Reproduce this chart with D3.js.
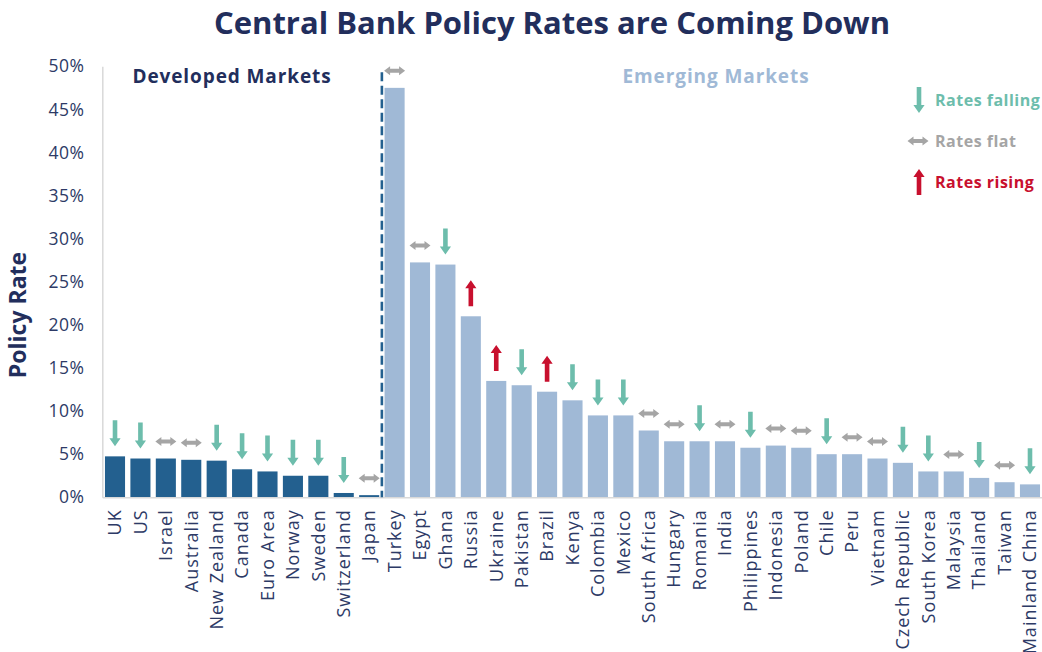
<!DOCTYPE html>
<html>
<head>
<meta charset="utf-8">
<script src="https://cdn.jsdelivr.net/npm/d3@7"></script>
<style>
  body { margin: 0; background: #fff; }
  svg { display: block; font-family: "Open Sans", "DejaVu Sans", sans-serif; }
</style>
</head>
<body>
<svg id="viz" width="1042" height="652"></svg>
<script>
// policy rates, %
var developed = ["UK", "US", "Israel", "Australia", "New Zealand", "Canada",
    "Euro Area", "Norway", "Sweden", "Switzerland", "Japan"];
var developedRates = [4.75, 4.5, 4.5, 4.35, 4.25, 3.25, 3.0, 2.5, 2.5, 0.5, 0.25];
var developedTrend = ["down", "down", "flat", "flat", "down", "down",
    "down", "down", "down", "down", "flat"];

var emerging = ["Turkey", "Egypt", "Ghana", "Russia", "Ukraine", "Pakistan",
    "Brazil", "Kenya", "Colombia", "Mexico", "South Africa", "Hungary",
    "Romania", "India", "Philippines", "Indonesia", "Poland", "Chile", "Peru",
    "Vietnam", "Czech Republic", "South Korea", "Malaysia", "Thailand",
    "Taiwan", "Mainland China"];
var emergingRates = [47.5, 27.25, 27, 21, 13.5, 13, 12.25, 11.25, 9.5, 9.5,
    7.75, 6.5, 6.5, 6.5, 5.75, 6.0, 5.75, 5.0, 5.0, 4.5, 4.0, 3.0, 3.0,
    2.25, 1.75, 1.5];
var emergingTrend = ["flat", "flat", "down", "up", "up", "down", "up", "down",
    "down", "down", "flat", "flat", "down", "flat", "down", "flat", "flat",
    "down", "flat", "flat", "down", "down", "flat", "down", "flat", "down"];

var yTicks = [0, 5, 10, 15, 20, 25, 30, 35, 40, 45, 50];
var legendKeys = ["down", "flat", "up"];
var legendLabels = ["Rates falling", "Rates flat", "Rates rising"];

var colors = { DM: "#23608f", EM: "#a0b9d6", down: "#6dbdac", flat: "#a5a5a5",
    up: "#c8102e", navy: "#222e5c", tick: "#2d3a66" };

var data = developed.map(function (c, i) {
    return { country: c, rate: developedRates[i], trend: developedTrend[i], market: "DM" };
}).concat(emerging.map(function (c, i) {
    return { country: c, rate: emergingRates[i], trend: emergingTrend[i], market: "EM" };
}));

var svg = d3.select("#viz");

var x = d3.scaleBand()
    .domain(data.map(function (d) { return d.country; }))
    .range([102.3, 1042.7])
    .paddingInner(0.21)
    .paddingOuter(0.105);
var y = d3.scaleLinear().domain([0, 50]).range([497.3, 66.3]);

// arrow glyphs, drawn around an anchor point
function arrowPath(kind, cx, cy) {
    if (kind === "flat") {
        return "M" + (cx - 10.5) + "," + cy +
            "L" + (cx - 4.5) + "," + (cy - 4.5) + "L" + (cx - 4.5) + "," + (cy - 2) +
            "L" + (cx + 4.5) + "," + (cy - 2) + "L" + (cx + 4.5) + "," + (cy - 4.5) +
            "L" + (cx + 10.5) + "," + cy +
            "L" + (cx + 4.5) + "," + (cy + 4.5) + "L" + (cx + 4.5) + "," + (cy + 2) +
            "L" + (cx - 4.5) + "," + (cy + 2) + "L" + (cx - 4.5) + "," + (cy + 4.5) + "Z";
    }
    // cy is the arrow's bottom end; total length 26
    var top = cy - 26, s = 2.3, h = 5.6, hl = 8;
    if (kind === "down") {
        return "M" + (cx - s) + "," + top + "L" + (cx + s) + "," + top +
            "L" + (cx + s) + "," + (cy - hl) + "L" + (cx + h) + "," + (cy - hl) +
            "L" + cx + "," + cy + "L" + (cx - h) + "," + (cy - hl) +
            "L" + (cx - s) + "," + (cy - hl) + "Z";
    }
    return "M" + (cx - s) + "," + cy + "L" + (cx + s) + "," + cy +
        "L" + (cx + s) + "," + (top + hl) + "L" + (cx + h) + "," + (top + hl) +
        "L" + cx + "," + top + "L" + (cx - h) + "," + (top + hl) +
        "L" + (cx - s) + "," + (top + hl) + "Z";
}

// title
svg.append("text")
    .attr("x", 552).attr("y", 34)
    .attr("text-anchor", "middle")
    .attr("font-size", 31).attr("font-weight", 700)
    .attr("fill", colors.navy)
    .text("Central Bank Policy Rates are Coming Down");

// y axis
var yAxis = svg.append("g")
    .attr("transform", "translate(" + x.range()[0] + ",0)")
    .call(d3.axisLeft(y).tickValues(yTicks)
        .tickFormat(function (d) { return d + "%"; })
        .tickSize(0).tickPadding(18));
yAxis.select(".domain").attr("stroke", "#d9d9d9").attr("stroke-width", 1.5);
yAxis.selectAll("text")
    .attr("font-size", 17.5).attr("fill", colors.tick)
    .attr("letter-spacing", 0.4)
    .attr("font-family", "'Open Sans', sans-serif");

svg.append("text")
    .attr("transform", "translate(26,315) rotate(-90)")
    .attr("text-anchor", "middle")
    .attr("font-size", 23).attr("font-weight", 700)
    .attr("fill", colors.navy)
    .text("Policy Rate");

// bars
svg.selectAll(".bar")
    .data(data)
    .enter().append("rect")
    .attr("class", "bar")
    .attr("x", function (d) { return x(d.country); })
    .attr("y", function (d) { return y(d.rate); })
    .attr("width", x.bandwidth())
    .attr("height", function (d) { return y(0) - y(d.rate); })
    .attr("fill", function (d) { return colors[d.market]; });

// x axis
var xAxis = svg.append("g")
    .attr("transform", "translate(0," + y(0) + ")")
    .call(d3.axisBottom(x).tickSize(0).tickSizeOuter(0));
xAxis.select(".domain").attr("stroke", "#d9d9d9").attr("stroke-width", 1.5);
xAxis.selectAll("text")
    .attr("transform", "rotate(-90)")
    .attr("x", -12).attr("y", 0).attr("dy", "0.35em")
    .attr("text-anchor", "end")
    .attr("font-size", 18).attr("fill", colors.tick)
    .attr("letter-spacing", 1)
    .attr("font-family", "'Open Sans', sans-serif");

// trend arrows above the bars
svg.selectAll(".trend")
    .data(data)
    .enter().append("path")
    .attr("class", "trend")
    .attr("d", function (d) {
        var cx = x(d.country) + x.bandwidth() / 2;
        var yt = y(d.rate);
        return d.trend === "flat" ? arrowPath("flat", cx, yt - 17)
                                  : arrowPath(d.trend, cx, yt - 10);
    })
    .attr("fill", function (d) { return colors[d.trend]; });

// divider between developed and emerging
var split = (x(developed[developed.length - 1]) + x.bandwidth() + x(emerging[0])) / 2;
svg.append("line")
    .attr("x1", split).attr("x2", split)
    .attr("y1", y(49.3)).attr("y2", y(0))
    .attr("stroke", colors.DM).attr("stroke-width", 2.6)
    .attr("stroke-dasharray", "9,4.5");

svg.append("text")
    .attr("x", 232).attr("y", 83)
    .attr("text-anchor", "middle")
    .attr("font-size", 19).attr("font-weight", 700)
    .attr("letter-spacing", 0.9)
    .attr("fill", colors.navy)
    .text("Developed Markets");
svg.append("text")
    .attr("x", 716).attr("y", 83)
    .attr("text-anchor", "middle")
    .attr("font-size", 19).attr("font-weight", 700)
    .attr("letter-spacing", 0.9)
    .attr("fill", colors.EM)
    .text("Emerging Markets");

// legend
var legend = svg.selectAll(".legend")
    .data(legendKeys)
    .enter().append("g")
    .attr("class", "legend")
    .attr("transform", function (d, i) { return "translate(0," + (100 + i * 41) + ")"; });
legend.append("path")
    .attr("d", function (d) {
        return d === "flat" ? arrowPath("flat", 918, 0) : arrowPath(d, 919, 13);
    })
    .attr("fill", function (d) { return colors[d]; });
legend.append("text")
    .attr("x", 935).attr("y", 0).attr("dy", "0.35em")
    .attr("font-size", 16).attr("font-weight", 700)
    .attr("letter-spacing", 0.5)
    .attr("fill", function (d) { return colors[d]; })
    .text(function (d, i) { return legendLabels[i]; });
</script>
</body>
</html>
